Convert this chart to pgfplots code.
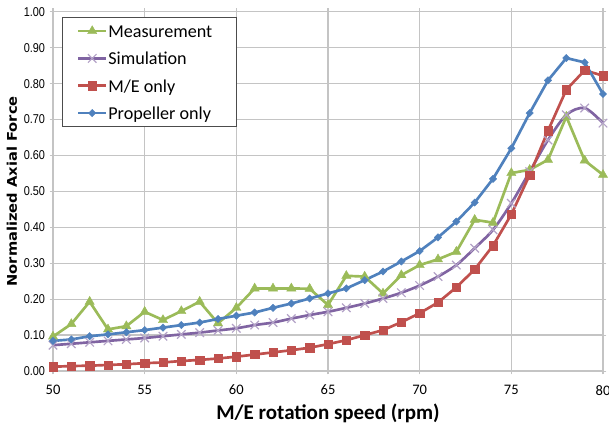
\documentclass[border=0pt]{standalone}
\usepackage{fontspec}
\setmainfont{Carlito}
\newfontfamily\ytickfont[FakeStretch=0.85]{Liberation Sans}
\newfontfamily\ylabelfont[FakeStretch=1.1]{DejaVu Sans}
\usepackage{pgfplots}
\pgfplotsset{compat=1.18}

\definecolor{mgreen}{HTML}{9BBB59}
\definecolor{mpurple}{HTML}{8064A2}
\definecolor{mlav}{HTML}{B3A2C7}
\definecolor{mred}{HTML}{C0504D}
\definecolor{mblue}{HTML}{4F81BD}
\definecolor{gridgray}{HTML}{C4C4C4}

\pgfplotstableread{
rpm  meas   sim    me     prop
50   0.096  0.072  0.012  0.084
51   0.131  0.076  0.014  0.088
52   0.193  0.080  0.015  0.097
53   0.116  0.084  0.017  0.102
54   0.125  0.088  0.019  0.108
55   0.165  0.092  0.022  0.114
56   0.142  0.097  0.024  0.121
57   0.167  0.102  0.028  0.128
58   0.193  0.107  0.031  0.135
59   0.133  0.113  0.035  0.145
60   0.176  0.119  0.040  0.154
61   0.230  0.128  0.046  0.163
62   0.230  0.135  0.052  0.176
63   0.230  0.146  0.058  0.188
64   0.229  0.156  0.065  0.202
65   0.184  0.165  0.075  0.216
66   0.265  0.176  0.086  0.230
67   0.263  0.188  0.100  0.253
68   0.216  0.202  0.114  0.277
69   0.267  0.218  0.136  0.305
70   0.295  0.238  0.161  0.334
71   0.311  0.263  0.191  0.372
72   0.332  0.295  0.233  0.416
73   0.421  0.342  0.283  0.469
74   0.413  0.393  0.349  0.535
75   0.551  0.467  0.436  0.620
76   0.560  0.555  0.546  0.718
77   0.588  0.643  0.669  0.809
78   0.708  0.713  0.783  0.871
79   0.586  0.732  0.837  0.859
80   0.546  0.690  0.822  0.771
}\datatable

\begin{document}
\begin{tikzpicture}
\begin{axis}[
    at={(0,0)}, anchor=south west,
    scale only axis,
    width=412.5pt, height=269.5pt,
    xmin=50, xmax=80, ymin=0, ymax=1,
    xtick={50,55,60,65,70,75,80},
    ytick={0,0.1,0.2,0.3,0.4,0.5,0.6,0.7,0.8,0.9,1},
    /pgf/number format/assume math mode=true,
    yticklabel style={/pgf/number format/.cd, fixed, fixed zerofill, precision=2, /tikz/.cd,
        font=\ytickfont\fontsize{9.6}{10}\selectfont},
    xticklabel style={font=\fontsize{10.9}{12}\selectfont, yshift=-4.5pt},
    grid=major,
    major grid style={gridgray, line width=1pt},
    axis line style={gridgray, line width=1pt},
    tick style={gridgray, line width=0.8pt},
    tick align=outside, major tick length=2.5pt,
    clip=false,
    xlabel={M/E rotation speed (rpm)},
    xlabel style={font=\bfseries\fontsize{15.75}{18}\selectfont,
        at={(axis description cs:0.5,-0.118)}, anchor=center},
    ylabel={Normalized Axial Force},
    ylabel style={font=\ylabelfont\bfseries\fontsize{10}{12}\selectfont,
        at={(axis description cs:-0.0745,0.5)}, anchor=center},
    legend cell align=left,
    legend image code/.code={\draw[mark repeat=2,mark phase=2]
        plot coordinates {(0pt,0pt) (10.5pt,0pt) (21pt,0pt)};},
    legend style={at={(axis description cs:0.0158,0.9861)}, anchor=north west,
        draw=black!70, line width=0.8pt, fill=white,
        font=\fontsize{13.6}{15}\selectfont,
        inner xsep=11pt, inner ysep=3.6pt, row sep=7pt,
        nodes={inner ysep=1pt, inner xsep=0.6pt, text height=10.5pt, text depth=1pt}},
]
\addplot[color=mgreen, line width=2pt, mark=triangle*, mark size=4pt,
    mark options={solid, fill=mgreen, draw=mgreen, line width=0.3pt}]
    table[x=rpm, y=meas] {\datatable};
\addlegendentry{Measurement}
\addplot[color=mpurple, line width=2pt, smooth, mark=x, mark size=4.5pt,
    mark options={solid, draw=mlav, line width=0.9pt}]
    table[x=rpm, y=sim] {\datatable};
\addlegendentry{Simulation}
\addplot[color=mred, line width=2pt, mark=square*, mark size=3.1pt,
    mark options={solid, fill=mred, draw=mred, line width=0.3pt}]
    table[x=rpm, y=me] {\datatable};
\addlegendentry{M/E only}
\addplot[color=mblue, line width=2pt, mark=square*, mark size=1.95pt,
    mark options={solid, rotate=45, fill=mblue, draw=mblue, line width=0.3pt}]
    table[x=rpm, y=prop] {\datatable};
\addlegendentry{Propeller only\hspace*{7.5pt}}
\end{axis}
\pgfresetboundingbox
\useasboundingbox (-39.75pt,-47.25pt) rectangle (417pt,278.3pt);
\end{tikzpicture}
\end{document}
